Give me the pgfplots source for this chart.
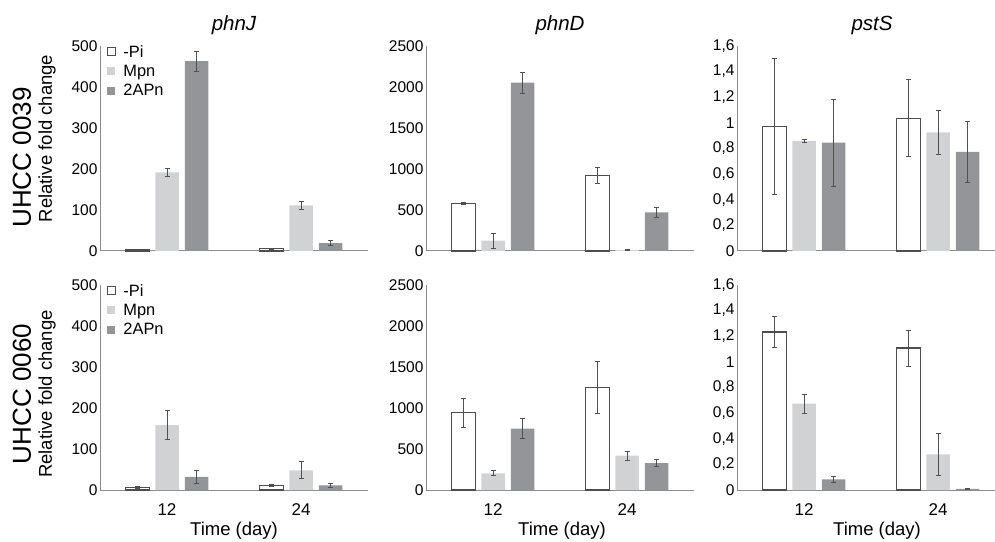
\documentclass[border=0pt]{standalone}
\usepackage{fontspec}
\setmainfont{Liberation Sans}
\usepackage{pgfplots}
\pgfplotsset{compat=1.18}

\definecolor{pigray}{HTML}{4D4D4D}
\definecolor{mpngray}{HTML}{D1D2D4}
\definecolor{apngray}{HTML}{939598}
\definecolor{axisgray}{HTML}{8C8C8C}
\definecolor{errgray}{HTML}{505050}

\newcommand{\ytickfont}{\fontsize{15.5}{18}\selectfont}
\newcommand{\xtickfont}{\fontsize{17}{20}\selectfont}
\newcommand{\labfont}{\fontsize{18.5}{22}\selectfont}
\newcommand{\uhccfont}{\fontsize{26}{30}\selectfont}
\newcommand{\titlefont}{\fontsize{20.5}{24}\selectfont\itshape}
\newcommand{\legfont}{\fontsize{16.4}{19}\selectfont}

\pgfplotsset{
  panel/.style={
    scale only axis, width=268pt, height=205pt, anchor=south west,
    ybar=6pt, bar width=23.5pt,
    xmin=-0.5, xmax=1.5, ymin=0,
    xtick={0,1},
    axis x line*=bottom, axis y line*=left,
    axis line style={-, draw=axisgray, line width=1pt},
    tick style={draw=none},
    /pgf/number format/assume math mode=true,
    /pgf/number format/1000 sep={},
    yticklabel style={font=\ytickfont, xshift=1pt},
    xticklabel style={font=\xtickfont, yshift=-6pt},
    clip=false,
  },
  errs/.style={
    error bars/y dir=both, error bars/y explicit,
    error bars/error bar style={draw=errgray, line width=0.9pt},
    error bars/error mark options={rotate=90, draw=errgray, line width=0.9pt, mark size=2.5pt},
  },
  pi/.style={fill=white, draw=pigray, line width=1.1pt, errs},
  mpn/.style={fill=mpngray, draw=none, errs},
  apn/.style={fill=apngray, draw=none, errs},
  leg/.style={
    legend cell align=left,
    legend style={draw=none, fill=none, at={(0.025,1.015)}, anchor=north west,
      font=\legfont, row sep=2.5pt, inner sep=0pt},
    legend image code/.code={\path[##1, bar shift=0pt] (0pt,-4pt) rectangle (8pt,4pt);
      \path[draw=none, fill=none] (0pt,0pt) -- (14pt,0pt);},
  },
}

\begin{document}
\begin{tikzpicture}
\path[use as bounding box] (0pt,0pt) rectangle (995pt,541pt);

% ---- UHCC 0039 ----
\begin{axis}[panel, leg, at={(100pt,290pt)}, ymax=500, ytick={0,100,...,500}, xticklabels={,}]
\addplot[pi] coordinates {(0,3) +- (0,1) (1,5) +- (0,2)};
\addplot[mpn] coordinates {(0,192) +- (0,10) (1,111) +- (0,10)};
\addplot[apn] coordinates {(0,463) +- (0,24) (1,19) +- (0,6)};
\legend{-Pi,Mpn,2APn}
\end{axis}

\begin{axis}[panel, at={(426pt,290pt)}, ymax=2500, ytick={0,500,...,2500}, xticklabels={,}]
\addplot[pi] coordinates {(0,581) +- (0,15) (1,918) +- (0,95)};
\addplot[mpn] coordinates {(0,126) +- (0,90) (1,10) +- (0,8)};
\addplot[apn] coordinates {(0,2053) +- (0,130) (1,471) +- (0,60)};
\end{axis}

\begin{axis}[panel, at={(737pt,290pt)}, width=258pt, xmax=1.4254, ymax=1.6,
  ytick={0,0.2,0.4,0.6,0.8,1,1.2,1.4,1.6}, xticklabels={,},
  /pgf/number format/use comma, /pgf/number format/1000 sep={}]
\addplot[pi] coordinates {(0,0.97) +- (0,0.53) (1,1.035) +- (0,0.30)};
\addplot[mpn] coordinates {(0,0.86) +- (0,0.01) (1,0.926) +- (0,0.17)};
\addplot[apn] coordinates {(0,0.845) +- (0,0.34) (1,0.773) +- (0,0.24)};
\end{axis}

% ---- UHCC 0060 ----
\begin{axis}[panel, leg, at={(100pt,51pt)}, ymax=500, ytick={0,100,...,500}, xticklabels={12,24}]
\addplot[pi] coordinates {(0,6.6) +- (0,2) (1,10.5) +- (0,3)};
\addplot[mpn] coordinates {(0,158) +- (0,35) (1,48) +- (0,21)};
\addplot[apn] coordinates {(0,32) +- (0,15) (1,11) +- (0,4)};
\legend{-Pi,Mpn,2APn}
\end{axis}

\begin{axis}[panel, at={(426pt,51pt)}, ymax=2500, ytick={0,500,...,2500}, xticklabels={12,24}]
\addplot[pi] coordinates {(0,944) +- (0,178) (1,1252) +- (0,317)};
\addplot[mpn] coordinates {(0,204) +- (0,32) (1,419) +- (0,53)};
\addplot[apn] coordinates {(0,749) +- (0,125) (1,329) +- (0,45)};
\end{axis}

\begin{axis}[panel, at={(737pt,51pt)}, width=258pt, xmax=1.4254, ymax=1.6,
  ytick={0,0.2,0.4,0.6,0.8,1,1.2,1.4,1.6}, xticklabels={12,24},
  /pgf/number format/use comma, /pgf/number format/1000 sep={}]
\addplot[pi] coordinates {(0,1.233) +- (0,0.12) (1,1.108) +- (0,0.14)};
\addplot[mpn] coordinates {(0,0.674) +- (0,0.073) (1,0.279) +- (0,0.163)};
\addplot[apn] coordinates {(0,0.083) +- (0,0.025) (1,0.008) +- (0,0.004)};
\end{axis}

% titles and labels
\node[font=\titlefont] at (234pt,516pt) {phnJ};
\node[font=\titlefont] at (560pt,516pt) {phnD};
\node[font=\titlefont] at (872pt,516pt) {pstS};
\node[rotate=90, font=\uhccfont] at (22pt,383.5pt) {UHCC 0039};
\node[rotate=90, font=\labfont] at (47pt,402.5pt) {Relative fold change};
\node[rotate=90, font=\uhccfont] at (22pt,147pt) {UHCC 0060};
\node[rotate=90, font=\labfont] at (47pt,147pt) {Relative fold change};
\node[font=\labfont] at (234pt,10pt) {Time (day)};
\node[font=\labfont] at (562pt,10pt) {Time (day)};
\node[font=\labfont] at (877pt,10pt) {Time (day)};
\end{tikzpicture}
\end{document}
